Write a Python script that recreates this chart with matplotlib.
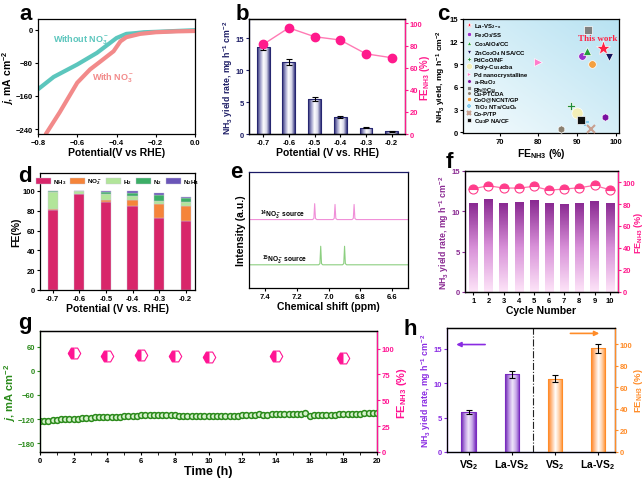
import numpy as np
import matplotlib
matplotlib.use('Agg')
import matplotlib.pyplot as plt
from matplotlib.colors import LinearSegmentedColormap

plt.rcParams['font.family'] = ['Liberation Sans', 'DejaVu Sans']
plt.rcParams['font.weight'] = 'bold'
plt.rcParams['axes.labelweight'] = 'bold'
plt.rcParams['mathtext.fontset'] = 'custom'
plt.rcParams['mathtext.rm'] = 'Liberation Sans:bold'
plt.rcParams['mathtext.bf'] = 'Liberation Sans:bold'
plt.rcParams['mathtext.it'] = 'Liberation Sans:bold:italic'
plt.rcParams['mathtext.default'] = 'bf'
plt.rcParams['xtick.labelsize'] = 5.5
plt.rcParams['ytick.labelsize'] = 5.5
plt.rcParams['axes.linewidth'] = 0.9
plt.rcParams['xtick.major.size'] = 2.5
plt.rcParams['ytick.major.size'] = 2.5
plt.rcParams['xtick.major.pad'] = 1.2
plt.rcParams['ytick.major.pad'] = 1.0

# ---- data ----
# a: LSV
pot_without = [-0.80, -0.72, -0.60, -0.50, -0.40, -0.35, -0.30, -0.26, -0.20, -0.10, 0.00]
j_without = [-144, -114, -84, -56, -20, -10, -8, -6, -5, -3, -1]
pot_with = [-0.76, -0.69, -0.60, -0.535, -0.48, -0.415, -0.38, -0.35, -0.28, -0.20, -0.10, 0.00]
j_with = [-252, -200, -128, -96, -76, -52, -28, -18, -10, -6, -4, -3]

# b: potential dependence
potentials = ['-0.7', '-0.6', '-0.5', '-0.4', '-0.3', '-0.2']
yield_b = [13.6, 11.3, 5.5, 2.65, 1.0, 0.45]
yield_b_err = [0.45, 0.5, 0.3, 0.15, 0.1, 0.06]
fe_b = [81, 96, 88, 85, 72.5, 69]

# c: comparison
catalysts = ['La-VS$_{2-x}$', 'Fe$_2$O$_3$/SS', 'Co$_3$AlO$_4$/CC', 'ZnCo$_2$O$_4$ NSA/CC',
             'PdCoO/NF', 'Poly-Cu$_{14}$cba', 'Pd nanocrystalline', 'a-RuO$_2$', 'Rh@Cu',
             'Cu-PTCDA', 'CoO@NCNT/GP', 'TiO$_2$ NTs/CuO$_x$', 'Co-P/TP', 'Cu$_3$P NA/CF']
cat_fe = [96.5, 91.3, 92.5, 98.1, 88.4, 90.0, 79.8, 97.2, 92.8, 85.8, 93.7, 92.0, 93.4, 91.0]
cat_yield = [11.2, 10.1, 10.8, 10.0, 3.5, 2.6, 9.3, 2.0, 13.5, 0.4, 9.0, 1.3, 0.4, 1.6]
cat_markers = ['*', 'o', '^', 'v', 'P', 'o', '>', 'h', 's', 'h', 'o', '+', 'x', 's']
cat_colors = ['#ff2244', '#9933cc', '#22a03a', '#14145e', '#1e8c3a', '#f3efb8', '#ff7ccc',
              '#7a10a0', '#808080', '#8a8070', '#f4a040', '#88ccee', '#c8a090', '#111111']

# d: FE distribution
fe_nh3 = [81, 96.5, 88.5, 85.2, 72.7, 69.4]
fe_no2 = [1, 0.5, 2, 5.7, 14.5, 15.8]
fe_h2 = [17, 3, 6.5, 4.1, 2.8, 3.8]
fe_n2 = [0.5, 0, 2, 3, 5.5, 3.5]
fe_n2h4 = [0.5, 0, 1, 1.5, 2, 1]

# e: NMR (hand-read points)
nmr14_x = [7.50, 7.100, 7.092, 7.087, 7.082, 7.074, 6.972, 6.964, 6.959, 6.954, 6.946,
           6.852, 6.844, 6.839, 6.834, 6.826, 6.50]
nmr14_y = [0.59, 0.59, 0.60, 0.727, 0.60, 0.59, 0.59, 0.60, 0.72, 0.60, 0.59,
           0.59, 0.60, 0.72, 0.60, 0.59, 0.59]
nmr15_x = [7.50, 7.062, 7.054, 7.049, 7.044, 7.036, 6.912, 6.904, 6.899, 6.894, 6.886, 6.50]
nmr15_y = [0.20, 0.20, 0.21, 0.36, 0.21, 0.20, 0.20, 0.21, 0.36, 0.21, 0.20, 0.20]

# f: cycling
cycles = [1, 2, 3, 4, 5, 6, 7, 8, 9, 10]
yield_f = [11.0, 11.5, 11.0, 11.13, 11.38, 11.0, 10.93, 11.05, 11.26, 11.05]
fe_f = [93.9, 96.6, 94.5, 94.5, 96.0, 92.6, 93.6, 94.8, 96.9, 93.0]

# g: long-term stability
time_h = [0.0, 0.25, 0.5, 0.75, 1.0, 1.25, 1.5, 1.75, 2.0, 2.25, 2.5, 2.75, 3.0, 3.25, 3.5, 3.75,
          4.0, 4.25, 4.5, 4.75, 5.0, 5.25, 5.5, 5.75, 6.0, 6.25, 6.5, 6.75, 7.0, 7.25, 7.5, 7.75,
          8.0, 8.25, 8.5, 8.75, 9.0, 9.25, 9.5, 9.75, 10.0, 10.25, 10.5, 10.75, 11.0, 11.25, 11.5,
          11.75, 12.0, 12.25, 12.5, 12.75, 13.0, 13.25, 13.5, 13.75, 14.0, 14.25, 14.5, 14.75, 15.0,
          15.25, 15.5, 15.75, 16.0, 16.25, 16.5, 16.75, 17.0, 17.25, 17.5, 17.75, 18.0, 18.25, 18.5,
          18.75, 19.0, 19.25, 19.5, 19.75, 20.0]
j_g = [-125, -124, -124, -123, -122, -121, -120, -120, -119, -119, -118, -118, -117, -116, -115, -115,
       -114, -114, -114, -114, -113, -113, -112, -112, -111, -111, -110, -110, -110, -110, -110, -110,
       -109, -113, -113, -112, -112, -112, -112, -112, -112, -112, -112, -112, -112, -113, -113,
       -112, -110, -110, -110, -109, -108, -110, -109, -108, -107, -107, -108, -108, -108,
       -108, -108, -106, -112, -110, -110, -110, -111, -109, -109, -108, -108, -107, -107,
       -107, -107, -106, -106, -105, -105]
fe_time = [2, 4, 6, 8, 10, 14, 18]
fe_g = [96, 92.5, 94, 92.5, 92, 92.5, 91.2]

# h: VS2 vs La-VS2
samples = ['VS$_2$', 'La-VS$_2$']
yield_h = [5.85, 11.3]
yield_h_err = [0.3, 0.5]
fe_h = [68, 96]
fe_h_err = [3, 4]


def shade_bars(ax, bars, cmap, vertical=False):
    xl, yl = ax.get_xlim(), ax.get_ylim()
    if vertical:
        grad = np.linspace(0, 1, 64).reshape(-1, 1)
    else:
        grad = np.linspace(0, 1, 64).reshape(1, -1)
    for b in bars:
        x0, y0, w, h = b.get_x(), b.get_y(), b.get_width(), b.get_height()
        b.set_facecolor('none')
        im = ax.imshow(grad, cmap=cmap, aspect='auto', origin='lower',
                       extent=(x0, x0 + w, y0, y0 + h), zorder=1.5)
        im.set_clip_path(b)
    ax.set_xlim(xl)
    ax.set_ylim(yl)


def letter(fig, x, y, s):
    # x = centre, y = baseline (pixels from top-left)
    fig.text(x / 644, 1 - y / 481, s, fontsize=16, fontweight='bold', ha='center', va='baseline')


def box(l, t, r, b):
    return [l / 644, 1 - b / 481, (r - l) / 644, (b - t) / 481]


fig = plt.figure(figsize=(6.44, 4.81), dpi=100)

# ---------- a ----------
ax = fig.add_axes(box(38, 20, 195, 135))
ax.plot(pot_without, j_without, color='#5cc6bd', lw=3, solid_capstyle='round')
ax.plot(pot_with, j_with, color='#f28a8a', lw=3, solid_capstyle='round')
ax.set_xlim(-0.8, 0.0)
ax.set_ylim(-252, 26)
ax.set_xticks([-0.8, -0.6, -0.4, -0.2, 0.0])
ax.set_yticks([0, -80, -160, -240])
ax.text(-0.725, -24, 'Without NO$_3^-$', color='#5cc6bd', fontsize=6.5, va='center')
ax.text(-0.525, -114, 'With NO$_3^-$', color='#f28a8a', fontsize=6.5, va='center')
ax.set_xlabel('Potential(V vs RHE)', fontsize=7.5, labelpad=0.5)
ax.set_ylabel(r'$\it{j}$, mA cm$^{-2}$', fontsize=7.5, labelpad=0)
letter(fig, 26, 20, 'a')

# ---------- b ----------
ax = fig.add_axes(box(249, 20, 405, 135))
xb = np.arange(len(potentials))
bars = ax.bar(xb, yield_b, width=0.5, edgecolor='#262670', linewidth=0.8, zorder=2)
ax.errorbar(xb, yield_b, yerr=yield_b_err, fmt='none', ecolor='black', elinewidth=0.8,
            capsize=2.5, capthick=0.8, zorder=3)
ax.set_xlim(-0.55, 5.52)
ax.set_ylim(0, 18)
ax.set_yticks([0, 5, 10, 15])
ax.set_xticks(xb)
ax.set_xticklabels(potentials)
shade_bars(ax, bars, LinearSegmentedColormap.from_list(
    'navy', ['#2a2a72', '#9a9ac8', '#ffffff', '#d8d8ea', '#3a3a82']))
ax.set_xlabel('Potential (V vs. RHE)', fontsize=7.5, labelpad=0.5)
ax.set_ylabel('NH$_3$ yield rate, mg h$^{-1}$ cm$^{-2}$', fontsize=6.3, color='#1e1e66', labelpad=0.5)
ax.tick_params(axis='y', colors='#1e1e66')
ax.spines['left'].set_color('#1e1e66')
ax2 = ax.twinx()
ax2.plot(xb, fe_b, color='#ff7ab4', lw=1, marker='o', ms=6, mfc='#ff1a8c', mec='#ff1a8c', zorder=4)
ax2.set_ylim(0, 104)
ax2.set_yticks([0, 20, 40, 60, 80, 100])
ax2.tick_params(axis='y', colors='#ff1a8c')
ax2.spines['right'].set_color('#ff1a8c')
ax2.set_ylabel('FE$_{NH3}$ (%)', color='#ff1a8c', fontsize=7, labelpad=0.5)
ax2.yaxis.set_label_coords(1.085, 0.5)
letter(fig, 242, 20, 'b')

# ---------- c ----------
ax = fig.add_axes(box(463, 20, 619, 134))
ax.set_xlim(60.6, 100.7)
ax.set_ylim(-0.1, 15)
gx, gy = np.meshgrid(np.linspace(0, 1, 80), np.linspace(0, 1, 80))
ax.imshow(gx * 0.6 + gy * 0.6, cmap=LinearSegmentedColormap.from_list('bg', ['#f4fbfd', '#b8e2f2']),
          extent=(60.6, 100.7, -0.1, 15), origin='lower', aspect='auto', zorder=0)
for i in range(len(catalysts)):
    ms = 11 if i == 0 else 5.5
    if i == 5:
        ms = 8
    mew = 1.5 if cat_markers[i] in ['+', 'x'] else 0.5
    mec = cat_colors[i] if cat_markers[i] in ['+', 'x'] else 'white'
    ax.plot(cat_fe[i], cat_yield[i], ls='none', marker=cat_markers[i], ms=ms, color=cat_colors[i],
            mec=mec, mew=mew, label=catalysts[i], zorder=3)
leg = ax.legend(loc='upper left', fontsize=4.3, frameon=False, markerscale=0.55, handletextpad=0.3,
                labelspacing=0.02, borderaxespad=0.15, handlelength=1.2, borderpad=0.2)
leg.legend_handles[0].set_markersize(4)
ax.text(95.3, 12.2, 'This work', color='#ff2244', fontsize=6.5, fontweight='bold',
        family='Liberation Serif', ha='center')
ax.set_xticks([70, 80, 90, 100])
ax.set_yticks([0, 3, 6, 9, 12, 15])
ax.set_xlabel('FE$_{NH3}$ (%)', fontsize=7.5, labelpad=0.5)
ax.set_ylabel('NH$_3$ yield, mg h$^{-1}$ cm$^{-2}$', fontsize=6.1, labelpad=0.5)
ax.yaxis.set_label_coords(-0.095, 0.5)
letter(fig, 443, 20, 'c')

# ---------- d ----------
ax = fig.add_axes(box(40, 174, 195, 291))
xd = np.arange(len(potentials))
bottom = np.zeros(len(potentials))
stack = [(fe_nh3, '#d8266a', 'NH$_3$'), (fe_no2, '#f5843a', 'NO$_2^-$'),
         (fe_h2, '#b2e59a', 'H$_2$'), (fe_n2, '#3cae66', 'N$_2$'), (fe_n2h4, '#6a55b8', 'N$_2$H$_4$')]
for vals, col, lab in stack:
    ax.bar(xd, vals, width=0.38, bottom=bottom, color=col, edgecolor='#c8c8d8', linewidth=0.3,
           label=lab, zorder=2)
    bottom = bottom + np.array(vals)
ax.set_xlim(-0.48, 5.35)
ax.set_ylim(0, 118)
ax.set_yticks([0, 20, 40, 60, 80, 100])
ax.set_xticks(xd)
ax.set_xticklabels(potentials)
ax.legend(loc='upper center', ncol=5, fontsize=4.5, frameon=False, handlelength=2.4, handleheight=1.0,
          columnspacing=0.7, handletextpad=0.3, borderaxespad=0.2)
ax.set_xlabel('Potential (V vs. RHE)', fontsize=7.5, labelpad=0.5)
ax.set_ylabel('FE(%)', fontsize=7.5, labelpad=0.5)
letter(fig, 25, 182, 'd')

# ---------- e ----------
ax = fig.add_axes(box(249, 173, 408, 289))
ax.plot(nmr14_x, nmr14_y, color='#f090d8', lw=0.8)
ax.plot(nmr15_x, nmr15_y, color='#8ccf80', lw=0.8)
ax.set_xlim(7.5, 6.5)
ax.set_ylim(0, 1)
ax.set_xticks([7.4, 7.2, 7.0, 6.8, 6.6])
ax.set_xticklabels(['7.4', '7.2', '7.0', '6.8', '6.6'])
ax.set_yticks([])
ax.text(7.43, 0.615, '$^{14}$NO$_3^-$ source', fontsize=4.8)
ax.text(7.42, 0.225, '$^{15}$NO$_3^-$ source', fontsize=4.8)
ax.spines['top'].set_color('#1a1a66')
ax.set_xlabel('Chemical shift (ppm)', fontsize=7.5, labelpad=0.5)
ax.set_ylabel('Intensity (a.u.)', fontsize=7.5, labelpad=2)
letter(fig, 236, 178, 'e')

# ---------- f ----------
ax = fig.add_axes(box(465, 172, 618, 293))
bars = ax.bar(cycles, yield_f, width=0.55, edgecolor='none', zorder=2)
ax.set_xlim(0.45, 10.55)
ax.set_ylim(0, 15)
ax.set_yticks([0, 5, 10, 15])
ax.set_xticks(cycles)
shade_bars(ax, bars, LinearSegmentedColormap.from_list('pur', ['#fde4f8', '#d890d8', '#8a2a92']),
           vertical=True)
ax.tick_params(axis='y', colors='#8a2a92')
ax.spines['left'].set_color('#8a2a92')
ax.set_xlabel('Cycle Number', fontsize=7.5, labelpad=0.5)
ax.set_ylabel('NH$_3$ yield rate, mg h$^{-1}$ cm$^{-2}$', fontsize=6.3, color='#8a2a92', labelpad=0.5)
ax2 = ax.twinx()
ax2.plot(cycles, fe_f, color='#ff6fa8', lw=0.9, marker='o', ms=6.5, fillstyle='top', mfc='#ff3d8b',
         mfcalt='white', mec='#ff3d8b', mew=0.8, zorder=4)
ax2.set_ylim(0, 110)
ax2.set_yticks([0, 20, 40, 60, 80, 100])
ax2.tick_params(axis='y', colors='#ff1a8c')
ax2.spines['right'].set_color('#ff1a8c')
ax2.set_ylabel('FE$_{NH3}$ (%)', color='#ff1a8c', fontsize=6.5, labelpad=0.5)
ax2.yaxis.set_label_coords(1.09, 0.5)
letter(fig, 449, 168, 'f')

# ---------- g ----------
ax = fig.add_axes(box(40, 332, 377, 453))
ax.plot(time_h, j_g, ls='none', marker='o', ms=4.2, mfc='#d6f2cc', mec='#2a8a1a', mew=1.1, zorder=3)
ax.set_xlim(0, 20)
ax.set_ylim(-202, 99)
ax.set_xticks(range(0, 21, 2))
ax.set_xticks(range(0, 21, 1), minor=True)
ax.set_yticks([-180, -120, -60, 0, 60])
ax.tick_params(axis='y', colors='#2a8a1a')
ax.spines['left'].set_color('#2a8a1a')
ax.set_xlabel('Time (h)', fontsize=9, labelpad=0.5)
ax.set_ylabel(r'$\it{j}$, mA cm$^{-2}$', color='#2a8a1a', fontsize=8, labelpad=0)
ax2 = ax.twinx()
ax2.plot(fe_time, fe_g, ls='none', marker='H', ms=9, fillstyle='left', mfc='#ff1493',
         mfcalt='white', mec='#ff1493', mew=0.8)
ax2.set_ylim(0, 117)
ax2.set_yticks([0, 25, 50, 75, 100])
ax2.tick_params(axis='y', colors='#ff1493')
ax2.spines['right'].set_color('#ff1493')
ax2.set_ylabel('FE$_{NH3}$ (%)', color='#ff1493', fontsize=8, labelpad=0.5)
letter(fig, 25, 329, 'g')

# ---------- h ----------
ax = fig.add_axes(box(447, 329, 615, 453))
ax.set_xlim(-0.5, 3.4)
ax.set_ylim(0, 18)
bars = ax.bar([0, 1], yield_h, width=0.33, edgecolor='#7a2ac0', linewidth=0.8, zorder=2)
ax.errorbar([0, 1], yield_h, yerr=yield_h_err, fmt='none', ecolor='black', elinewidth=0.8,
            capsize=2.5, capthick=0.8, zorder=3)
shade_bars(ax, bars, LinearSegmentedColormap.from_list(
    'vio', ['#6a22b0', '#b890e0', '#f0e6fa', '#c8a8e8', '#7a30c0']))
ax.axvline(1.5, color='#222222', lw=0.8, ls='-.')
ax.set_xticks([0, 1, 2, 3])
ax.set_xticklabels(samples + samples, fontsize=7.5)
ax.set_yticks([0, 5, 10, 15])
ax.tick_params(axis='y', colors='#8a2be2')
ax.spines['left'].set_color('#8a2be2')
ax.spines['bottom'].set_color('#3030a0')
ax.set_ylabel('NH$_3$ yield rate, mg h$^{-1}$ cm$^{-2}$', fontsize=6.3, color='#8a2be2', labelpad=0.5)
ax.annotate('', xy=(-0.35, 15.6), xytext=(0.45, 15.6),
            arrowprops=dict(arrowstyle='-|>', color='#8a2be2', lw=1.2, mutation_scale=7))
ax2 = ax.twinx()
ax2.set_ylim(0, 115)
bars2 = ax2.bar([2, 3], fe_h, width=0.33, edgecolor='#ff8c28', linewidth=0.8, zorder=2)
ax2.errorbar([2, 3], fe_h, yerr=fe_h_err, fmt='none', ecolor='black', elinewidth=0.8,
             capsize=2.5, capthick=0.8, zorder=3)
shade_bars(ax2, bars2, LinearSegmentedColormap.from_list(
    'org', ['#ff8020', '#ffc090', '#ffffff', '#ffd0a8', '#ff8c28']))
ax2.set_xlim(-0.5, 3.4)
ax2.set_yticks([0, 20, 40, 60, 80, 100])
ax2.tick_params(axis='y', colors='#ff8c28')
ax2.spines['right'].set_color('#ff8c28')
ax2.set_ylabel('FE$_{NH3}$ (%)', color='#ff8c28', fontsize=6.8, labelpad=0.5)
ax2.yaxis.set_label_coords(1.10, 0.5)
ax2.annotate('', xy=(3.1, 110), xytext=(2.3, 110),
             arrowprops=dict(arrowstyle='-|>', color='#ff8c28', lw=1.2, mutation_scale=7))
letter(fig, 410, 335, 'h')

fig.savefig('out.png', dpi=100)
